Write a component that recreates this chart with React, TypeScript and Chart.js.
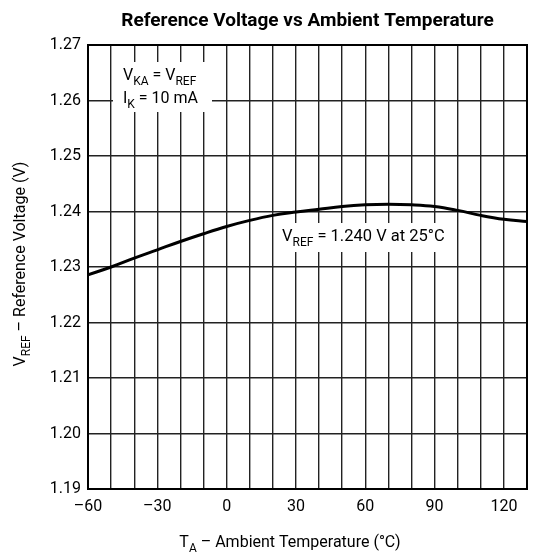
import React, { useEffect, useRef } from "react";
import { Chart, registerables } from "chart.js";

Chart.register(...registerables);

// ---- data ----
const temperatures = [-60, -50, -40, -30, -20, -10, 0, 10, 20, 30, 40, 50, 60, 70, 80, 90, 100, 110, 120, 130];
const vrefValues = [
  1.2286, 1.23, 1.2316, 1.2331, 1.2346, 1.236, 1.2373, 1.2384, 1.2393, 1.2399,
  1.2404, 1.2409, 1.2412, 1.2413, 1.2412, 1.2409, 1.2402, 1.2393, 1.2386, 1.2382,
];
const xTickValues = [-60, -30, 0, 30, 60, 90, 120];
const yTickValues = [1.19, 1.2, 1.21, 1.22, 1.23, 1.24, 1.25, 1.26, 1.27];

const FONT = "Roboto, 'Liberation Sans', sans-serif";

type Seg = { t: string; sub?: boolean };

function segWidth(ctx: CanvasRenderingContext2D, segs: Seg[], size: number, weight = "") {
  let w = 0;
  for (const s of segs) {
    ctx.font = `${weight} ${s.sub ? Math.round(size * 0.72) : size}px ${FONT}`;
    w += ctx.measureText(s.t).width;
  }
  return w;
}

function drawRich(
  ctx: CanvasRenderingContext2D,
  segs: Seg[],
  x: number,
  y: number,
  size: number,
  align: "left" | "center" = "left",
  weight = ""
) {
  const w = segWidth(ctx, segs, size, weight);
  let cx = align === "center" ? x - w / 2 : x;
  ctx.textAlign = "left";
  ctx.textBaseline = "alphabetic";
  for (const s of segs) {
    const fs = s.sub ? Math.round(size * 0.72) : size;
    ctx.font = `${weight} ${fs}px ${FONT}`;
    ctx.fillText(s.t, cx, s.sub ? y + size * 0.32 : y);
    cx += ctx.measureText(s.t).width;
  }
}

const fmtTemp = (v: number) => (v < 0 ? "\u2013" + Math.abs(v) : String(v));

const textPlugin = {
  id: "textPlugin",
  beforeDatasetsDraw(chart: any) {
    const ctx: CanvasRenderingContext2D = chart.ctx;
    ctx.save();
    ctx.fillStyle = "#ffffff";
    ctx.fillRect(113, 62, 99, 50);
    ctx.fillRect(278, 223, 174, 29);
    ctx.fillStyle = "#000";
    drawRich(ctx, [{ t: "V" }, { t: "KA", sub: true }, { t: " = V" }, { t: "REF", sub: true }], 123, 80, 16);
    drawRich(ctx, [{ t: "I" }, { t: "K", sub: true }, { t: " = 10 mA" }], 123, 103, 16);
    drawRich(ctx, [{ t: "V" }, { t: "REF", sub: true }, { t: " = 1.240 V at 25\u00B0C" }], 282, 241, 16.5);
    ctx.restore();
  },
  afterDraw(chart: any) {
    const ctx: CanvasRenderingContext2D = chart.ctx;
    const a = chart.chartArea;
    ctx.save();
    ctx.strokeStyle = "#000";
    ctx.lineWidth = 2;
    ctx.strokeRect(a.left, a.top, a.right - a.left, a.bottom - a.top);
    ctx.fillStyle = "#000";
    drawRich(ctx, [{ t: "Reference Voltage vs Ambient Temperature" }], (a.left + a.right) / 2, 26, 19, "center", "bold");
    drawRich(ctx, [{ t: "T" }, { t: "A", sub: true }, { t: " \u2013 Ambient Temperature (\u00B0C)" }], 290, 547, 16, "center");
    ctx.translate(25, 264);
    ctx.rotate(-Math.PI / 2);
    drawRich(ctx, [{ t: "V" }, { t: "REF", sub: true }, { t: " \u2013 Reference Voltage (V)" }], 0, 0, 16, "center");
    ctx.restore();
  },
};

export default function App() {
  const ref = useRef<HTMLCanvasElement | null>(null);
  useEffect(() => {
    if (!ref.current) return;
    const chart = new Chart(ref.current, {
      type: "line",
      data: {
        datasets: [
          {
            data: temperatures.map((t, i) => ({ x: t, y: vrefValues[i] })),
            borderColor: "#000",
            borderWidth: 3,
            pointRadius: 0,
            tension: 0.4,
            fill: false,
          },
        ],
      },
      options: {
        animation: false,
        responsive: false,
        devicePixelRatio: 1,
        layout: { padding: { top: 45, right: 6, left: 0, bottom: 0 } },
        plugins: { legend: { display: false }, title: { display: false }, tooltip: { enabled: false } },
        scales: {
          x: {
            type: "linear",
            min: -60,
            max: 130,
            ticks: {
              stepSize: 10,
              autoSkip: false,
              maxRotation: 0,
              color: "#000",
              padding: 8,
              font: { size: 16, family: FONT },
              callback: (v: any) => (xTickValues.includes(Number(v)) ? fmtTemp(Number(v)) : ""),
            },
            grid: { color: "#222", lineWidth: 1.4, drawTicks: false },
            border: { color: "#000", width: 2 },
            afterFit: (s: any) => {
              s.height = 67;
            },
          },
          y: {
            type: "linear",
            min: yTickValues[0],
            max: yTickValues[yTickValues.length - 1],
            ticks: {
              stepSize: 0.01,
              color: "#000",
              padding: 7,
              font: { size: 16, family: FONT },
              callback: (v: any) => Number(v).toFixed(2),
            },
            grid: { color: "#222", lineWidth: 1.4, drawTicks: false },
            border: { color: "#000", width: 2 },
            afterFit: (s: any) => {
              s.width = 88;
            },
          },
        },
      },
      plugins: [textPlugin],
    } as any);
    return () => chart.destroy();
  }, []);
  return (
    <div style={{ position: "fixed", left: 0, top: 0, width: 535, height: 556, background: "#fff" }}>
      <canvas ref={ref} width={535} height={556} />
    </div>
  );
}
